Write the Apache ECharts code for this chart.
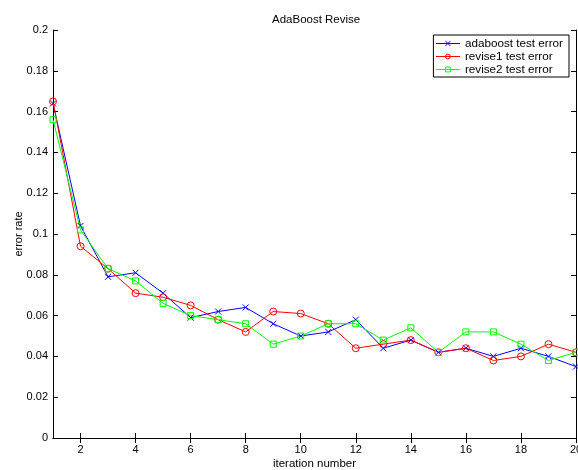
<!DOCTYPE html>
<html><head><meta charset="utf-8">
<script src="https://cdn.jsdelivr.net/npm/echarts@6/dist/echarts.min.js"></script>
<style>html,body{margin:0;padding:0;background:#fff}#c{width:578px;height:470px}</style>
</head><body><div id="c"></div>
<script>
const iterations = [1,2,3,4,5,6,7,8,9,10,11,12,13,14,15,16,17,18,19,20];
const adaboost = [0.164,0.104,0.079,0.081,0.071,0.059,0.062,0.064,0.056,0.050,0.052,0.058,0.044,0.048,0.042,0.044,0.040,0.044,0.040,0.035];
const revise1 = [0.165,0.094,0.083,0.071,0.069,0.065,0.058,0.052,0.062,0.061,0.056,0.044,0.046,0.048,0.042,0.044,0.038,0.040,0.046,0.042];
const revise2 = [0.156,0.102,0.083,0.077,0.066,0.060,0.058,0.056,0.046,0.050,0.056,0.056,0.048,0.054,0.042,0.052,0.052,0.046,0.038,0.042];
const xTicks = [2,4,6,8,10,12,14,16,18,20];
const seriesNames = ['adaboost test error','revise1 test error','revise2 test error'];

const font = 'Liberation Sans, Arial, sans-serif';
const pair = (ys) => iterations.map((x,i)=>[x, ys[i]]);
const mk = (name, data, color, symbol, size) => ({
  name, type:'line', data: pair(data), symbol, symbolSize: size,
  lineStyle:{color, width:1}, itemStyle:{color:'rgba(0,0,0,0)', borderColor:color, borderWidth:1},
  emphasis:{disabled:true}, animation:false
});
const chart = echarts.init(document.getElementById('c'));
chart.setOption({
  animation:false,
  title:{text:'AdaBoost Revise', left:267, top:9, textStyle:{fontFamily:font, fontSize:11.5, fontWeight:'normal', color:'#000'}},
  grid:{left:53, right:2, top:30, bottom:32, outerBoundsMode:'none', containLabel:false},
  legend:{
    right:9, top:35, orient:'vertical', itemGap:0, itemWidth:24, itemHeight:6,
    borderColor:'#000', borderWidth:1, padding:[2,6,1,2], backgroundColor:'#fff',
    lineStyle:{width:1},
    itemStyle:{borderWidth:1},
    textStyle:{fontFamily:font, fontSize:11.7, color:'#000', lineHeight:13},
    data: seriesNames
  },
  xAxis:[{
    type:'value', min:1, max:20, position:'bottom',
    name:'iteration number', nameLocation:'middle', nameGap:20, nameMoveOverlap:false,
    nameTextStyle:{fontFamily:font, fontSize:11.5, color:'#000'},
    axisLine:{lineStyle:{color:'#000', width:1}},
    axisTick:{inside:true, length:5, customValues:xTicks, lineStyle:{color:'#000'}},
    axisLabel:{customValues:xTicks, fontFamily:font, fontSize:11, color:'#000', margin:6},
    splitLine:{show:false}
  },{
    type:'value', min:1, max:20, position:'top',
    axisLine:{lineStyle:{color:'#000', width:1}},
    axisTick:{inside:true, length:5, customValues:xTicks, lineStyle:{color:'#000'}},
    axisLabel:{show:false}, splitLine:{show:false}
  }],
  yAxis:[{
    type:'value', min:0, max:0.2, interval:0.02, position:'left',
    name:'error rate', nameLocation:'middle', nameGap:29, nameMoveOverlap:false,
    nameTextStyle:{fontFamily:font, fontSize:11, color:'#000'},
    axisLine:{show:true, lineStyle:{color:'#000', width:1}},
    axisTick:{show:true, inside:true, length:5, lineStyle:{color:'#000'}},
    axisLabel:{fontFamily:font, fontSize:11, color:'#000', margin:5},
    splitLine:{show:false}
  },{
    type:'value', min:0, max:0.2, interval:0.02, position:'right',
    axisLine:{show:true, lineStyle:{color:'#000', width:1}},
    axisTick:{show:true, inside:true, length:5, lineStyle:{color:'#000'}},
    axisLabel:{show:false}, splitLine:{show:false}
  }],
  series:[
    mk(seriesNames[0], adaboost, '#0000ff', 'path://M0,0L10,10M10,0L0,10', 6),
    mk(seriesNames[1], revise1, '#ff0000', 'circle', 7),
    mk(seriesNames[2], revise2, '#00ff00', 'rect', 6)
  ]
});
</script></body></html>
